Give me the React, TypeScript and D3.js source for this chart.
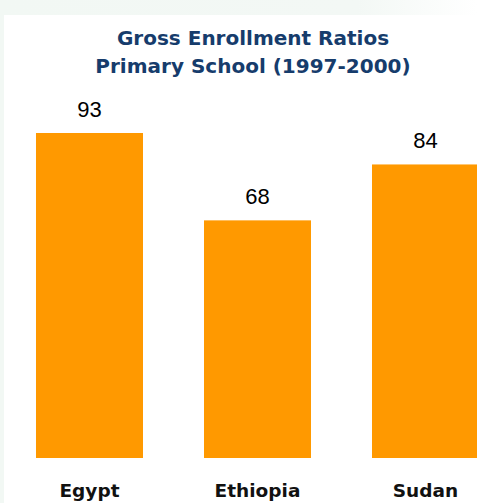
import React from "react";
import * as d3 from "d3";

const categories = ["Egypt", "Ethiopia", "Sudan"];
const values = [93, 68, 84];
const titleLines = ["Gross Enrollment Ratios", "Primary School (1997-2000)"];

const W = 477;
const H = 503;

export default function App() {
  const x = d3
    .scaleBand<string>()
    .domain(categories)
    .range([5.5, 509.5])
    .paddingInner(0.3631)
    .paddingOuter(0.1815);
  const y = d3.scaleLinear().domain([0, 93]).range([458, 133]);

  return (
    <svg
      width={W}
      height={H}
      style={{ position: "absolute", left: 0, top: 0, display: "block" }}
    >
      <defs>
        <linearGradient id="bg" x1="0" x2="1" y1="0" y2="0">
          <stop offset="0" stopColor="#f2f8f4" />
          <stop offset="0.75" stopColor="#f3f8f5" />
          <stop offset="1" stopColor="#ffffff" />
        </linearGradient>
      </defs>
      <rect x={0} y={0} width={W} height={H} fill="#ffffff" />
      <rect x={0} y={0} width={W} height={15} fill="url(#bg)" />
      <rect x={0} y={0} width={4} height={H} fill="#f2f8f4" />
      {titleLines.map((t, i) => (
        <text
          key={t}
          x={253}
          y={45 + i * 27.5}
          textAnchor="middle"
          fontFamily="DejaVu Sans, Verdana, sans-serif"
          fontWeight="bold"
          fontSize={20}
          fill="#163c6c"
        >
          {t}
        </text>
      ))}
      {categories.map((c, i) => (
        <g key={c}>
          <rect
            x={x(c)}
            y={y(values[i])}
            width={x.bandwidth()}
            height={y(0) - y(values[i])}
            fill="#ff9900"
          />
          <text
            x={(x(c) ?? 0) + x.bandwidth() / 2}
            y={y(values[i]) - 16}
            textAnchor="middle"
            fontFamily="Liberation Sans, Arial, sans-serif"
            fontSize={22}
            fill="#000"
          >
            {values[i]}
          </text>
          <text
            x={(x(c) ?? 0) + x.bandwidth() / 2}
            y={497}
            textAnchor="middle"
            fontFamily="DejaVu Sans, Verdana, sans-serif"
            fontWeight="bold"
            fontSize={18.5}
            fill="#111"
          >
            {c}
          </text>
        </g>
      ))}
    </svg>
  );
}
